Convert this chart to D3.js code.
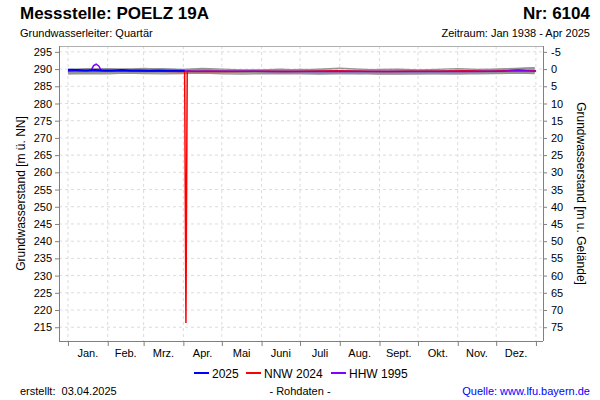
<!DOCTYPE html>
<html>
<head>
<meta charset="utf-8">
<script src="https://cdn.jsdelivr.net/npm/d3@7"></script>
<style>
	body { margin: 0; background: #fff; }
	text { font-family: "Liberation Sans", Arial, sans-serif; fill: #000; }
	.grid line { stroke: #dcdcdc; stroke-dasharray: 3,3; }
	.axis path, .axis line { stroke: #808080; }
	.axis text { font-size: 11px; }
</style>
</head>
<body>
<svg id="chart" width="600" height="400"></svg>
<script>
// Chart area
var margin = { top: 46, right: 57, bottom: 59, left: 59 },
	width = 600 - margin.left - margin.right,
	height = 400 - margin.top - margin.bottom;

// Month ticks (day of year of month start) and labels
var monthStarts = [1, 32, 60, 91, 121, 152, 182, 213, 244, 274, 305, 335, 366];
var monthLabels = ['Jan.', 'Feb.', 'Mrz.', 'Apr.', 'Mai', 'Juni', 'Juli', 'Aug.', 'Sept.', 'Okt.', 'Nov.', 'Dez.'];
var leftTicks = [215, 220, 225, 230, 235, 240, 245, 250, 255, 260, 265, 270, 275, 280, 285, 290, 295];
var rightTicks = [-5, 0, 5, 10, 15, 20, 25, 30, 35, 40, 45, 50, 55, 60, 65, 70, 75];
var groundLevel = 290;

// Historical years (grey), sampled twice a month
var grayDays = [1, 16, 32, 46, 60, 75, 91, 106, 121, 136, 152, 167, 182, 197, 213, 228, 244, 259, 274, 289, 305, 320, 335, 350, 365];
var gray1 = [289.4, 289.6, 289.8, 289.7, 289.9, 290.1, 289.8, 289.6, 289.5, 289.4, 289.3, 289.5, 289.4, 289.3, 289.2, 289.1, 289.0, 289.1, 289.2, 289.1, 289.3, 289.4, 289.6, 289.8, 289.7];
var gray2 = [288.9, 289.0, 289.2, 289.1, 289.0, 289.2, 289.0, 288.9, 288.8, 288.9, 289.0, 288.8, 288.9, 288.7, 288.8, 288.9, 288.8, 288.7, 288.8, 288.9, 288.8, 288.9, 289.0, 288.9, 289.1];
var gray3 = [289.7, 289.9, 290.1, 290.0, 290.2, 290.0, 289.9, 290.2, 290.0, 289.8, 289.7, 289.6, 289.8, 290.0, 290.3, 290.0, 289.8, 289.7, 289.6, 289.5, 289.7, 289.6, 289.9, 290.1, 290.3];
var gray4 = [289.2, 289.3, 289.1, 289.4, 289.3, 289.5, 289.4, 289.2, 289.0, 289.1, 288.9, 289.0, 288.9, 288.8, 288.9, 288.7, 288.8, 288.9, 289.0, 288.8, 288.9, 289.0, 289.1, 289.3, 289.4];
var gray5 = [289.5, 289.8, 289.7, 290.0, 289.8, 289.7, 289.6, 289.4, 289.5, 289.6, 289.8, 290.0, 289.7, 289.5, 289.3, 289.4, 289.5, 289.3, 289.4, 289.6, 289.5, 289.7, 289.6, 289.9, 290.0];
var gray6 = [288.7, 288.8, 288.9, 288.8, 289.0, 288.9, 288.8, 289.0, 289.1, 288.9, 288.8, 288.9, 289.0, 289.1, 288.9, 288.8, 288.6, 288.7, 288.8, 288.7, 288.6, 288.8, 288.9, 288.8, 288.9];
var gray7 = [289.9, 290.1, 290.0, 289.8, 289.9, 289.7, 289.8, 289.9, 289.7, 289.6, 289.5, 289.7, 289.9, 289.8, 289.6, 289.7, 289.9, 290.0, 289.8, 289.9, 290.1, 289.9, 290.0, 290.2, 290.4];
var gray8 = [289.1, 289.0, 289.3, 289.2, 289.1, 289.3, 289.2, 289.1, 289.2, 289.3, 289.1, 289.2, 289.1, 289.0, 289.1, 289.2, 289.1, 289.0, 288.9, 289.0, 289.2, 289.1, 289.3, 289.2, 289.0];
var gray9 = [288.6, 288.7, 288.6, 288.8, 288.7, 288.6, 288.7, 288.8, 288.6, 288.5, 288.6, 288.7, 288.6, 288.5, 288.6, 288.7, 288.5, 288.6, 288.5, 288.6, 288.7, 288.6, 288.7, 288.8, 288.7];
var gray10 = [289.3, 289.1, 289.4, 289.6, 289.4, 289.2, 289.3, 289.5, 289.3, 289.2, 289.4, 289.3, 289.2, 289.4, 289.5, 289.3, 289.2, 289.4, 289.3, 289.2, 289.4, 289.5, 289.3, 289.5, 289.6];
var grayYears = [gray1, gray2, gray3, gray4, gray5, gray6, gray7, gray8, gray9, gray10];

// NNW 2024 (red), incl. single outlier early April
var nnwDays = [1, 10, 20, 31, 45, 60, 75, 88, 92, 93, 94, 100, 110, 130, 150, 170, 190, 210, 230, 250, 270, 290, 310, 330, 345, 352, 358, 366];
var nnwValues = [289.4, 289.6, 289.5, 289.4, 289.5, 289.4, 289.4, 289.3, 289.4, 216.2, 289.4, 289.3, 289.4, 289.3, 289.4, 289.3, 289.4, 289.5, 289.4, 289.3, 289.4, 289.4, 289.5, 289.4, 289.6, 289.8, 289.6, 289.5];

// HHW 1995 (purple)
var hhwDays = [1, 10, 19, 21, 23, 25, 27, 40, 60, 80, 100, 130, 160, 190, 220, 250, 280, 310, 340, 355, 366];
var hhwValues = [289.6, 289.5, 289.6, 291.0, 291.4, 290.9, 289.6, 289.5, 289.4, 289.5, 289.4, 289.4, 289.3, 289.3, 289.3, 289.3, 289.3, 289.3, 289.4, 289.5, 289.4];

// 2025 (blue), until beginning of April
var curDays = [1, 8, 15, 22, 29, 36, 43, 50, 57, 64, 71, 78, 85, 92];
var curValues = [289.8, 289.7, 289.6, 289.7, 289.6, 289.6, 289.7, 289.6, 289.6, 289.5, 289.6, 289.5, 289.5, 289.5];

var svg = d3.select('#chart');
var g = svg.append('g')
	.attr('transform', 'translate(' + margin.left + ',' + margin.top + ')');

// Scales
var x = d3.scaleLinear().domain([-6, 371.5]).range([0, width]);
var y = d3.scaleLinear().domain([211, 296.7]).range([height, 0]);
var y2 = d3.scaleLinear().domain([groundLevel - 211, groundLevel - 296.7]).range([height, 0]);

// Grid
g.append('g').attr('class', 'grid')
	.selectAll('line.h').data(leftTicks).enter()
	.append('line')
	.attr('x1', 0).attr('x2', width)
	.attr('y1', function (d) { return y(d); })
	.attr('y2', function (d) { return y(d); });
g.append('g').attr('class', 'grid')
	.selectAll('line.v').data(monthStarts).enter()
	.append('line')
	.attr('y1', 0).attr('y2', height)
	.attr('x1', function (d) { return x(d); })
	.attr('x2', function (d) { return x(d); });

// Frame
g.append('line').attr('x1', 0).attr('x2', width).attr('y1', 0.5).attr('y2', 0.5).attr('stroke', '#b0b0b0');

// Axes
var yAxis = d3.axisLeft(y).tickValues(leftTicks).tickSize(4).tickPadding(3);
var y2Axis = d3.axisRight(y2).tickValues(rightTicks).tickSize(4).tickPadding(4)
	.tickFormat(function (d) { return String(d); });
var xAxis = d3.axisBottom(x).tickValues(monthStarts).tickSize(4).tickFormat('');

g.append('g').attr('class', 'y axis').call(yAxis)
	.call(function (a) { a.select('.domain').attr('d', 'M0.5,0V' + height); });
g.append('g').attr('class', 'y2 axis')
	.attr('transform', 'translate(' + width + ',0)')
	.call(y2Axis)
	.call(function (a) { a.select('.domain').attr('d', 'M0.5,0V' + height); });
g.append('g').attr('class', 'x axis')
	.attr('transform', 'translate(0,' + height + ')')
	.call(xAxis)
	.call(function (a) { a.select('.domain').attr('d', 'M0,0.5H' + width); });

g.selectAll('.x.axis .tick line').attr('transform', 'translate(0,1)');

// Month labels centered between month starts
g.append('g').selectAll('text.month').data(monthLabels).enter()
	.append('text')
	.attr('class', 'month')
	.attr('x', function (d, i) { return x((monthStarts[i] + monthStarts[i + 1]) / 2); })
	.attr('y', height + 16)
	.attr('text-anchor', 'middle')
	.style('font-size', '11px')
	.text(function (d) { return d; });

// Lines
var line = d3.line()
	.x(function (d) { return x(d[0]); })
	.y(function (d) { return y(d[1]); });

var lines = g.append('g');
grayYears.forEach(function (vals) {
	lines.append('path')
		.attr('d', line(d3.zip(grayDays, vals)))
		.attr('fill', 'none')
		.attr('stroke', '#939393')
		.attr('stroke-width', 1.2);
});
lines.append('path')
	.attr('d', line(d3.zip(nnwDays, nnwValues)))
	.attr('fill', 'none')
	.attr('stroke', '#ff0000')
	.attr('stroke-width', 1.5);
lines.append('path')
	.attr('d', line(d3.zip(hhwDays, hhwValues)))
	.attr('fill', 'none')
	.attr('stroke', '#8000ff')
	.attr('stroke-width', 1.5);
lines.append('path')
	.attr('d', line(d3.zip(curDays, curValues)))
	.attr('fill', 'none')
	.attr('stroke', '#0000ff')
	.attr('stroke-width', 2);

// Axis titles
svg.append('text')
	.attr('transform', 'translate(25,' + (margin.top + height / 2) + ') rotate(-90)')
	.attr('text-anchor', 'middle')
	.style('font-size', '12px')
	.text('Grundwasserstand [m ü. NN]');
svg.append('text')
	.attr('transform', 'translate(577,' + (margin.top + height / 2) + ') rotate(90)')
	.attr('text-anchor', 'middle')
	.style('font-size', '12px')
	.text('Grundwasserstand [m u. Gelände]');

// Header
svg.append('text').attr('x', 20).attr('y', 19)
	.style('font-size', '17px').style('font-weight', 'bold')
	.text('Messstelle: POELZ 19A');
svg.append('text').attr('x', 590).attr('y', 19)
	.attr('text-anchor', 'end')
	.style('font-size', '17px').style('font-weight', 'bold')
	.text('Nr: 6104');
svg.append('text').attr('x', 20).attr('y', 37)
	.style('font-size', '11px')
	.text('Grundwasserleiter: Quartär');
svg.append('text').attr('x', 590).attr('y', 37)
	.attr('text-anchor', 'end')
	.style('font-size', '11px')
	.text('Zeitraum: Jan 1938 - Apr 2025');

// Legend
var legendItems = [
	{ name: '2025', color: '#0000ff', x: 194 },
	{ name: 'NNW 2024', color: '#ff0000', x: 246 },
	{ name: 'HHW 1995', color: '#8000ff', x: 331 }
];
var legend = svg.append('g').selectAll('g').data(legendItems).enter()
	.append('g')
	.attr('transform', function (d) { return 'translate(' + d.x + ',373)'; });
legend.append('line')
	.attr('x1', 0).attr('x2', 15)
	.attr('stroke', function (d) { return d.color; })
	.attr('stroke-width', 2);
legend.append('text')
	.attr('x', 18).attr('y', 4.5)
	.style('font-size', '12px')
	.text(function (d) { return d.name; });

// Footer
svg.append('text').attr('x', 20).attr('y', 395)
	.style('font-size', '11px')
	.style('white-space', 'pre')
	.text('erstellt:  03.04.2025');
svg.append('text').attr('x', 300).attr('y', 395)
	.attr('text-anchor', 'middle')
	.style('font-size', '11px')
	.text('- Rohdaten -');
svg.append('text').attr('x', 590).attr('y', 395)
	.attr('text-anchor', 'end')
	.style('font-size', '11px')
	.style('fill', '#0000ff')
	.text('Quelle: www.lfu.bayern.de');
</script>
</body>
</html>
